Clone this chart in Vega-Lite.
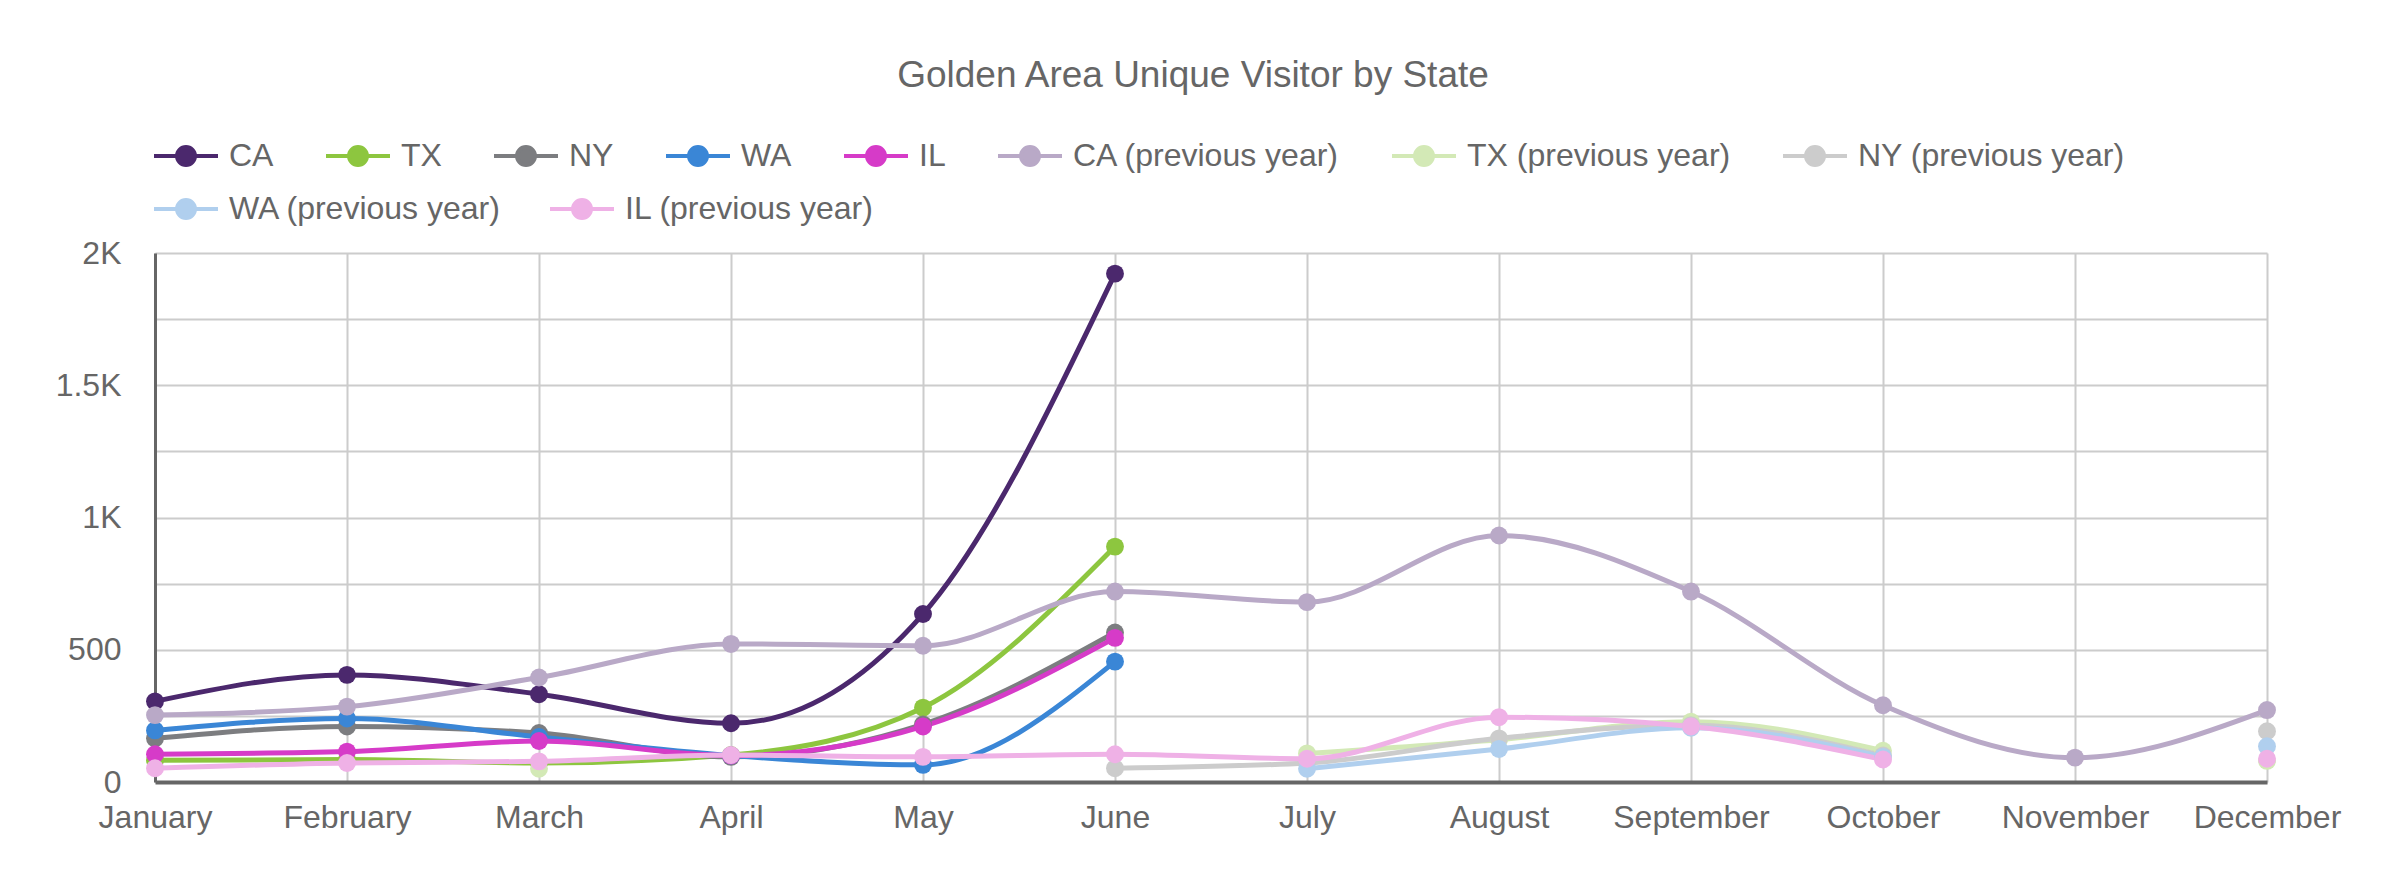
{
  "$schema": "https://vega.github.io/schema/vega-lite/v6.json",
  "autosize": {"type": "none"},
  "width": 2112,
  "height": 529,
  "padding": {"left": 155, "top": 253, "right": 119, "bottom": 101},
  "background": "white",
  "config": {
    "font": "Liberation Sans",
    "view": {"stroke": null},
    "legend": {
      "labelLimit": 1000,
      "labelFontSize": 32,
      "labelColor": "#666666",
      "labelFont": "Liberation Sans",
      "symbolType": "M-1.6,0H1.6M0.45,0A0.45,0.45,0,1,1,-0.45,0A0.45,0.45,0,1,1,0.45,0Z",
      "symbolSize": 1600,
      "symbolStrokeWidth": 4,
      "symbolOpacity": 1,
      "labelOffset": 21,
      "columnPadding": 44,
      "rowPadding": 12,
      "padding": 9
    }
  },
  "title": {
    "text": "Golden Area Unique Visitor by State",
    "fontSize": 37,
    "fontWeight": "normal",
    "color": "#666666",
    "font": "Liberation Sans",
    "anchor": "middle",
    "dx": -18,
    "offset": 30
  },
  "data": {
    "values": [
      {"series": "CA", "month": "January", "m": 1, "value": 305},
      {"series": "CA", "month": "February", "m": 2, "value": 405},
      {"series": "CA", "month": "March", "m": 3, "value": 332},
      {"series": "CA", "month": "April", "m": 4, "value": 222},
      {"series": "CA", "month": "May", "m": 5, "value": 635},
      {"series": "CA", "month": "June", "m": 6, "value": 1922},
      {"series": "TX", "month": "January", "m": 1, "value": 82},
      {"series": "TX", "month": "February", "m": 2, "value": 85},
      {"series": "TX", "month": "March", "m": 3, "value": 72},
      {"series": "TX", "month": "April", "m": 4, "value": 102},
      {"series": "TX", "month": "May", "m": 5, "value": 281},
      {"series": "TX", "month": "June", "m": 6, "value": 890},
      {"series": "NY", "month": "January", "m": 1, "value": 165},
      {"series": "NY", "month": "February", "m": 2, "value": 210},
      {"series": "NY", "month": "March", "m": 3, "value": 185},
      {"series": "NY", "month": "April", "m": 4, "value": 95},
      {"series": "NY", "month": "May", "m": 5, "value": 218},
      {"series": "NY", "month": "June", "m": 6, "value": 565},
      {"series": "WA", "month": "January", "m": 1, "value": 195},
      {"series": "WA", "month": "February", "m": 2, "value": 240},
      {"series": "WA", "month": "March", "m": 3, "value": 170},
      {"series": "WA", "month": "April", "m": 4, "value": 100},
      {"series": "WA", "month": "May", "m": 5, "value": 65},
      {"series": "WA", "month": "June", "m": 6, "value": 455},
      {"series": "IL", "month": "January", "m": 1, "value": 105},
      {"series": "IL", "month": "February", "m": 2, "value": 115},
      {"series": "IL", "month": "March", "m": 3, "value": 155},
      {"series": "IL", "month": "April", "m": 4, "value": 100},
      {"series": "IL", "month": "May", "m": 5, "value": 210},
      {"series": "IL", "month": "June", "m": 6, "value": 545},
      {"series": "CA (previous year)", "month": "January", "m": 1, "value": 253},
      {"series": "CA (previous year)", "month": "February", "m": 2, "value": 285},
      {"series": "CA (previous year)", "month": "March", "m": 3, "value": 395},
      {"series": "CA (previous year)", "month": "April", "m": 4, "value": 522},
      {"series": "CA (previous year)", "month": "May", "m": 5, "value": 515},
      {"series": "CA (previous year)", "month": "June", "m": 6, "value": 720},
      {"series": "CA (previous year)", "month": "July", "m": 7, "value": 680},
      {"series": "CA (previous year)", "month": "August", "m": 8, "value": 932},
      {"series": "CA (previous year)", "month": "September", "m": 9, "value": 720},
      {"series": "CA (previous year)", "month": "October", "m": 10, "value": 290},
      {"series": "CA (previous year)", "month": "November", "m": 11, "value": 92},
      {"series": "CA (previous year)", "month": "December", "m": 12, "value": 272},
      {"series": "TX (previous year)", "month": "March", "m": 3, "value": 50},
      {"series": "TX (previous year)", "month": "April", "m": 4, "value": null},
      {"series": "TX (previous year)", "month": "July", "m": 7, "value": 108},
      {"series": "TX (previous year)", "month": "August", "m": 8, "value": 160},
      {"series": "TX (previous year)", "month": "September", "m": 9, "value": 228},
      {"series": "TX (previous year)", "month": "October", "m": 10, "value": 118},
      {"series": "TX (previous year)", "month": "November", "m": 11, "value": null},
      {"series": "TX (previous year)", "month": "December", "m": 12, "value": 80},
      {"series": "NY (previous year)", "month": "June", "m": 6, "value": 52},
      {"series": "NY (previous year)", "month": "July", "m": 7, "value": 72},
      {"series": "NY (previous year)", "month": "August", "m": 8, "value": 165},
      {"series": "NY (previous year)", "month": "September", "m": 9, "value": 215},
      {"series": "NY (previous year)", "month": "October", "m": 10, "value": 100},
      {"series": "NY (previous year)", "month": "November", "m": 11, "value": null},
      {"series": "NY (previous year)", "month": "December", "m": 12, "value": 192},
      {"series": "WA (previous year)", "month": "July", "m": 7, "value": 50},
      {"series": "WA (previous year)", "month": "August", "m": 8, "value": 125},
      {"series": "WA (previous year)", "month": "September", "m": 9, "value": 205},
      {"series": "WA (previous year)", "month": "October", "m": 10, "value": 95},
      {"series": "WA (previous year)", "month": "November", "m": 11, "value": null},
      {"series": "WA (previous year)", "month": "December", "m": 12, "value": 135},
      {"series": "IL (previous year)", "month": "January", "m": 1, "value": 52},
      {"series": "IL (previous year)", "month": "February", "m": 2, "value": 72},
      {"series": "IL (previous year)", "month": "March", "m": 3, "value": 78},
      {"series": "IL (previous year)", "month": "April", "m": 4, "value": 102},
      {"series": "IL (previous year)", "month": "May", "m": 5, "value": 95},
      {"series": "IL (previous year)", "month": "June", "m": 6, "value": 105},
      {"series": "IL (previous year)", "month": "July", "m": 7, "value": 88},
      {"series": "IL (previous year)", "month": "August", "m": 8, "value": 245},
      {"series": "IL (previous year)", "month": "September", "m": 9, "value": 210},
      {"series": "IL (previous year)", "month": "October", "m": 10, "value": 85},
      {"series": "IL (previous year)", "month": "November", "m": 11, "value": null},
      {"series": "IL (previous year)", "month": "December", "m": 12, "value": 88}
    ]
  },
  "encoding": {
    "x": {
      "field": "month",
      "type": "ordinal",
      "sort": ["January", "February", "March", "April", "May", "June", "July", "August", "September", "October", "November", "December"],
      "scale": {"type": "point", "padding": 0},
      "axis": {
        "title": null,
        "labelAngle": 0,
        "labelFontSize": 32,
        "labelColor": "#666666",
        "labelPadding": 20,
        "ticks": false,
        "grid": true,
        "gridColor": "#cccccc",
        "gridWidth": 2,
        "domainColor": "#666666",
        "domainWidth": 4,
        "labelOverlap": false
      }
    },
    "y": {
      "field": "value",
      "type": "quantitative",
      "scale": {"domain": [0, 2000], "nice": false},
      "axis": {
        "title": null,
        "values": [0, 250, 500, 750, 1000, 1250, 1500, 1750, 2000],
        "labelExpr": "datum.value % 500 != 0 ? '' : (datum.value >= 1000 ? (datum.value / 1000) + 'K' : datum.value + '')",
        "labelFontSize": 32,
        "labelColor": "#666666",
        "labelPadding": 34,
        "ticks": false,
        "grid": true,
        "gridColor": "#cccccc",
        "gridWidth": 2,
        "domainColor": "#666666",
        "domainWidth": 3
      }
    },
    "order": {"field": "m", "type": "quantitative"}
  },
  "layer": [
    {
      "transform": [
        {"filter": {"field": "series", "oneOf": ["CA", "TX", "NY", "WA", "IL", "CA (previous year)", "TX (previous year)", "NY (previous year)"]}}
      ],
      "encoding": {
        "color": {
          "field": "series",
          "type": "nominal",
          "scale": {
            "domain": ["CA", "TX", "NY", "WA", "IL", "CA (previous year)", "TX (previous year)", "NY (previous year)"],
            "range": ["#4b286d", "#8dc63f", "#7c7d80", "#3a86d6", "#d63bc8", "#b9a9c7", "#d3e9b6", "#cccccc"]
          },
          "legend": {
            "title": null,
            "orient": "top",
            "direction": "horizontal",
            "columns": 8,
            "offset": 71,
            "encode": {
              "symbols": {
                "update": {
                  "fill": {"scale": "color", "field": "value"},
                  "stroke": {"scale": "color", "field": "value"},
                  "opacity": {"value": 1}
                }
              }
            }
          }
        }
      },
      "layer": [
        {"mark": {"type": "line", "interpolate": "monotone", "strokeWidth": 5, "invalid": "break-paths-show-domains"}},
        {"mark": {"type": "point", "filled": true, "opacity": 1, "size": 320, "shape": "circle"}}
      ]
    },
    {
      "transform": [
        {"filter": {"field": "series", "oneOf": ["WA (previous year)", "IL (previous year)"]}}
      ],
      "encoding": {
        "color": {
          "field": "series",
          "type": "nominal",
          "scale": {
            "domain": ["WA (previous year)", "IL (previous year)"],
            "range": ["#b0cfee", "#efb1e6"]
          },
          "legend": {
            "title": null,
            "orient": "none",
            "legendX": 0,
            "legendY": -75,
            "direction": "horizontal",
            "columns": 2,
            "columnPadding": 40
          }
        }
      },
      "layer": [
        {"mark": {"type": "line", "interpolate": "monotone", "strokeWidth": 5, "invalid": "break-paths-show-domains"}},
        {"mark": {"type": "point", "filled": true, "opacity": 1, "size": 320, "shape": "circle"}}
      ]
    }
  ],
  "resolve": {"scale": {"color": "independent"}, "legend": {"color": "independent"}}
}
